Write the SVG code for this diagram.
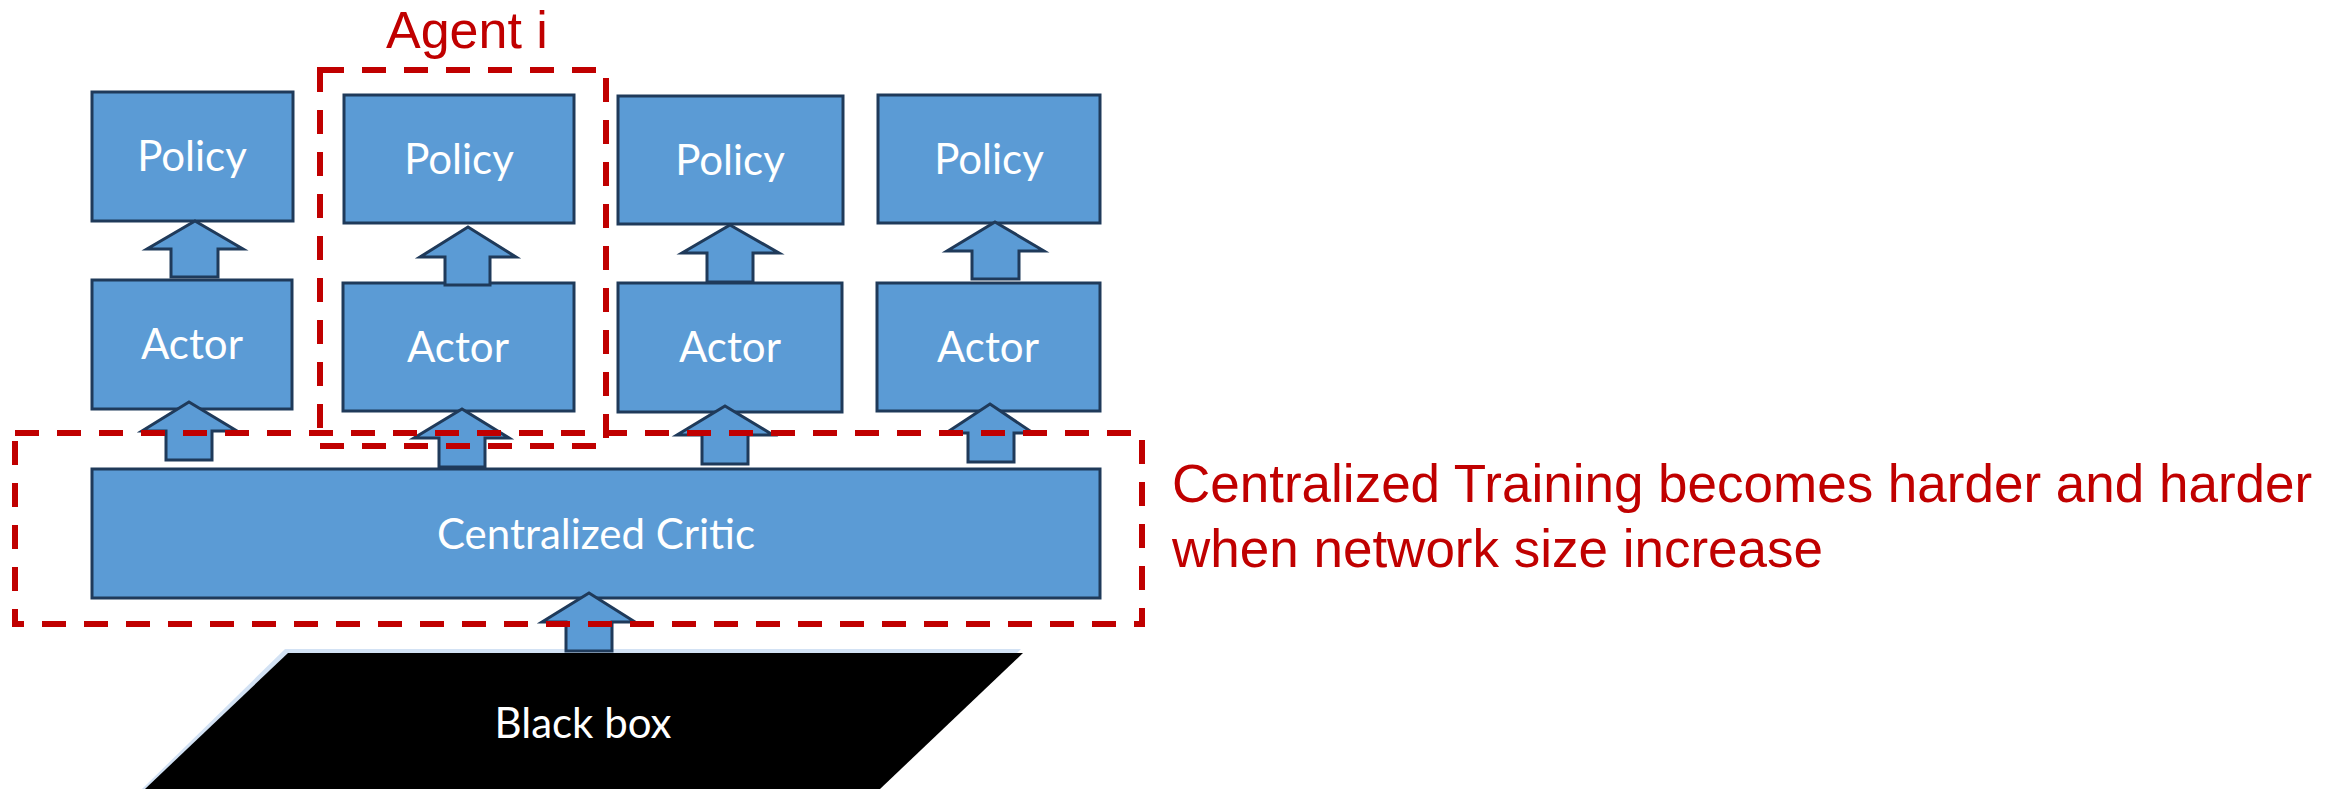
<svg xmlns="http://www.w3.org/2000/svg" width="2349" height="789" viewBox="0 0 2349 789">
  <style>
    .box { fill: #5b9bd5; stroke: #1f3a5a; stroke-width: 3; }
    .arrow { fill: #5b9bd5; stroke: #1f3a5a; stroke-width: 3; stroke-linejoin: miter; }
    .label { font-family: "Lato", "Liberation Sans", sans-serif; font-size: 42px; fill: #ffffff; text-anchor: middle; }
    .frame { fill: none; stroke: #c00000; stroke-width: 6; stroke-dasharray: 24 18; }
    .note { font-family: "Liberation Sans", Arial, sans-serif; fill: #c00000; }
  </style>
  <rect width="2349" height="789" fill="#ffffff"/>

  <!-- Black box environment -->
  <g id="blackbox">
    <polygon points="285,649 1021,649 878,789 142,789" fill="#d3e2f4"/>
    <polygon points="288,653 1023,653 880,789 145,789" fill="#000000"/>
    <text class="label" x="583" y="738">Black box</text>
  </g>

  <!-- Policy nodes -->
  <g id="policy1">
    <rect class="box" x="92" y="92" width="201" height="129"/>
    <text class="label" x="192" y="171">Policy</text>
  </g>
  <g id="policy2">
    <rect class="box" x="344" y="95" width="230" height="128"/>
    <text class="label" x="459" y="174">Policy</text>
  </g>
  <g id="policy3">
    <rect class="box" x="618" y="96" width="225" height="128"/>
    <text class="label" x="730" y="175">Policy</text>
  </g>
  <g id="policy4">
    <rect class="box" x="878" y="95" width="222" height="128"/>
    <text class="label" x="989" y="174">Policy</text>
  </g>

  <!-- Actor nodes -->
  <g id="actor1">
    <rect class="box" x="92" y="280" width="200" height="129"/>
    <text class="label" x="192" y="359">Actor</text>
  </g>
  <g id="actor2">
    <rect class="box" x="343" y="283" width="231" height="128"/>
    <text class="label" x="458" y="362">Actor</text>
  </g>
  <g id="actor3">
    <rect class="box" x="618" y="283" width="224" height="129"/>
    <text class="label" x="730" y="362">Actor</text>
  </g>
  <g id="actor4">
    <rect class="box" x="877" y="283" width="223" height="128"/>
    <text class="label" x="988" y="362">Actor</text>
  </g>

  <!-- Centralized critic -->
  <g id="critic">
    <rect class="box" x="92" y="469" width="1008" height="129"/>
    <text class="label" x="596" y="549">Centralized Critic</text>
  </g>

  <!-- Block arrows -->
  <g id="connectors">
    <!-- actor to policy -->
    <polygon class="arrow" points="195,221 243,249 218,249 218,277 171,277 171,249 147,249"/>
    <polygon class="arrow" points="468,227 516,257 490,257 490,285 445,285 445,257 420,257"/>
    <polygon class="arrow" points="730,225 779,253 753,253 753,282 707,282 707,253 682,253"/>
    <polygon class="arrow" points="995,222 1044,251 1019,251 1019,279 972,279 972,251 947,251"/>
    <!-- critic to actor -->
    <polygon class="arrow" points="189,402 237,431 212,431 212,460 166,460 166,431 142,431"/>
    <polygon class="arrow" points="462,409 509,438 485,438 485,467 439,467 439,438 414,438"/>
    <polygon class="arrow" points="725,406 773,435 748,435 748,464 702,464 702,435 677,435"/>
    <polygon class="arrow" points="990,404 1033,433 1014,433 1014,462 968,462 968,433 946,433"/>
    <!-- black box to critic -->
    <polygon class="arrow" points="589,593 635,622 612,622 612,651 566,651 566,622 542,622"/>
  </g>

  <!-- Agent grouping -->
  <g id="agent-frame">
    <rect class="frame" x="320" y="70" width="286" height="376"/>
    <text class="note" x="386" y="48" font-size="52">Agent i</text>
  </g>

  <!-- Centralized training grouping -->
  <g id="training-frame">
    <rect class="frame" x="15" y="433" width="1127" height="191"/>
    <text class="note" x="1172" y="502" font-size="53">Centralized Training becomes harder and harder</text>
    <text class="note" x="1172" y="567" font-size="53">when network size increase</text>
  </g>
</svg>
